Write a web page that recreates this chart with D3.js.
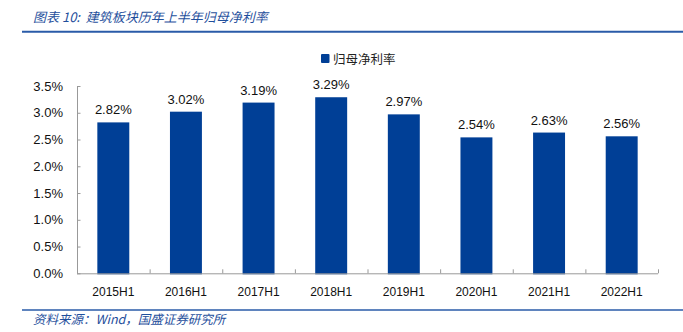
<!DOCTYPE html>
<html><head><meta charset="utf-8">
<script src="https://cdn.jsdelivr.net/npm/d3@7"></script>
<style>
html,body{margin:0;padding:0;background:#fff;}
svg{display:block;}
</style></head>
<body>
<svg id="c" width="683" height="332"></svg>
<script>
const categories = ["2015H1","2016H1","2017H1","2018H1","2019H1","2020H1","2021H1","2022H1"];
const values = [2.82, 3.02, 3.19, 3.29, 2.97, 2.54, 2.63, 2.56];
const valueLabels = ["2.82%","3.02%","3.19%","3.29%","2.97%","2.54%","2.63%","2.56%"];
const yTicks = [0, 0.5, 1.0, 1.5, 2.0, 2.5, 3.0, 3.5];
const seriesName = "归母净利率";
const titleText = "图表 10:  建筑板块历年上半年归母净利率";
const sourceText = "资料来源：Wind，国盛证券研究所";

(function(){
const svg = d3.select("#c");
const blue = "#003f96";
const textBlue = "#1f4f9c";
const pL = 77, pR = 658, pT = 86, pB = 273.3;

const x = d3.scaleBand().domain(categories).range([pL, pR]).paddingInner(0.56).paddingOuter(0.28);
const y = d3.scaleLinear().domain([0, 3.5]).range([pB, pT]);

// title
svg.append("text").attr("x", 33).attr("y", 21.5)
  .style("white-space", "pre")
  .attr("font-family", "'Noto Sans CJK SC', sans-serif").attr("font-size", 13)
  .attr("font-style", "italic").attr("fill", textBlue)
  .text(titleText);
svg.append("line").attr("x1", 22).attr("x2", 683).attr("y1", 31.7).attr("y2", 31.7)
  .attr("stroke", "#2a5ba8").attr("stroke-width", 2);

// legend
svg.append("rect").attr("x", 321).attr("y", 54).attr("width", 8.5).attr("height", 9).attr("rx", 1)
  .attr("fill", blue);
svg.append("text").attr("x", 333).attr("y", 63.5)
  .attr("font-family", "'Noto Sans CJK SC', sans-serif").attr("font-size", 12.5)
  .attr("fill", "#222").text(seriesName);

// bars
svg.selectAll("rect.bar").data(values).enter().append("rect").attr("class","bar")
  .attr("x", (d,i) => x(categories[i]))
  .attr("width", x.bandwidth())
  .attr("y", d => y(d))
  .attr("height", d => pB + 1 - y(d))
  .attr("fill", blue);

// value labels
svg.selectAll("text.val").data(values).enter().append("text").attr("class","val")
  .attr("x", (d,i) => x(categories[i]) + x.bandwidth()/2)
  .attr("y", d => y(d) - 8)
  .attr("text-anchor", "middle")
  .attr("font-family", "'Liberation Sans', Arial, sans-serif").attr("font-size", 13)
  .attr("fill", "#111")
  .text((d,i) => valueLabels[i]);

// y axis
const yAxis = d3.axisLeft(y).tickValues(yTicks).tickSize(-3.5).tickPadding(14)
  .tickFormat(d => d.toFixed(1) + "%");
const gy = svg.append("g").attr("transform", `translate(${pL},0)`).call(yAxis);
gy.select(".domain").attr("stroke", "#999").attr("d", `M0.5,${pT}V${pB}`);
gy.selectAll(".tick line").attr("stroke", "#999");
gy.selectAll(".tick text").attr("font-family", "'Liberation Sans', Arial, sans-serif")
  .attr("font-size", 13).attr("fill", "#111");

// x axis
const band = x.step();
const xAxis = d3.axisBottom(x).tickSize(0).tickPadding(14);
const gx = svg.append("g").attr("transform", `translate(0,${pB})`).call(xAxis);
gx.select(".domain").attr("stroke", "#999").attr("d", `M${pL},0.5H${pR}`);
gx.selectAll(".tick text").attr("font-family", "'Liberation Sans', Arial, sans-serif")
  .attr("font-size", 12).attr("fill", "#111");
const bounds = d3.range(categories.length + 1).map(i => pL + i * band);
gx.selectAll("line.bt").data(bounds).enter().append("line").attr("class","bt")
  .attr("x1", d => d + 0.5).attr("x2", d => d + 0.5).attr("y1", 0).attr("y2", -4)
  .attr("stroke", "#999");

// footer
svg.append("line").attr("x1", 22).attr("x2", 683).attr("y1", 310).attr("y2", 310)
  .attr("stroke", "#2a5ba8").attr("stroke-width", 1.5);
svg.append("text").attr("x", 33).attr("y", 323.5)
  .attr("font-family", "'Noto Sans CJK SC', sans-serif").attr("font-size", 12.5)
  .attr("font-style", "italic").attr("fill", textBlue)
  .text(sourceText);
})();
</script>
</body></html>
